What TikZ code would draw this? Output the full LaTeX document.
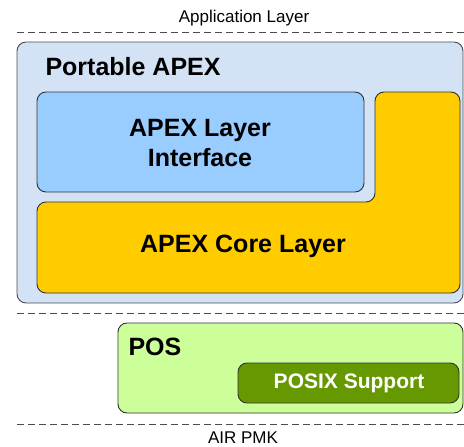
\documentclass[tikz,border=0pt]{standalone}
\usepackage{fontspec}
\setmainfont{Liberation Sans}
\begin{document}
\begin{tikzpicture}[x=1pt,y=-1pt,
  boxline/.style={draw=black!80, line width=0.9pt, rounded corners=9pt},
  sep/.style={draw=black!70, line width=0.9pt, dash pattern=on 7pt off 4pt},
  big/.style={font=\fontsize{25}{30}\selectfont\bfseries, align=center},
  small/.style={font=\fontsize{17}{20}\selectfont}]
\useasboundingbox (0,0) rectangle (464,447);
% separators
\coordinate (s1a) at (17,32); \coordinate (s1b) at (464,32);
\coordinate (s2a) at (17,313); \coordinate (s2b) at (464,313);
\coordinate (s3a) at (17,424); \coordinate (s3b) at (464,424);
\draw[sep] (s1a) -- (s1b);
\draw[sep] (s2a) -- (s2b);
\draw[sep] (s3a) -- (s3b);
\node[small] (app) at (244,18) {Application Layer};
\node[small] (air) at (243,438) {AIR PMK};
% Portable APEX
\draw[boxline, fill={rgb,255:red,212;green,226;blue,246}, draw=black!70] (17,42) rectangle (463,303);
\node[big, anchor=west] (papex) at (42,67) {Portable APEX};
% APEX Layer Interface
\draw[boxline, fill={rgb,255:red,153;green,204;blue,255}] (37,92) rectangle (364,192);
\node[big] (ali) at (200,143) {APEX Layer\\Interface};
% APEX Core Layer (L shape)
\draw[boxline, fill={rgb,255:red,255;green,204;blue,0}] (37,293) -- (37,202) -- (375,202) -- (375,92) -- (460,92) -- (460,293) -- cycle;
\node[big] (acl) at (243,246) {APEX Core Layer};
% POS
\draw[boxline, fill={rgb,255:red,204;green,255;blue,153}] (118,323) rectangle (463,413);
\node[big, anchor=west] (pos) at (125,347) {POS};
% POSIX Support
\draw[boxline, fill={rgb,255:red,102;green,153;blue,0}] (238,363) rectangle (459,403);
\node[font=\fontsize{21}{24}\selectfont\bfseries, text=white] (posix) at (349,383) {POSIX Support};
\end{tikzpicture}
\end{document}
